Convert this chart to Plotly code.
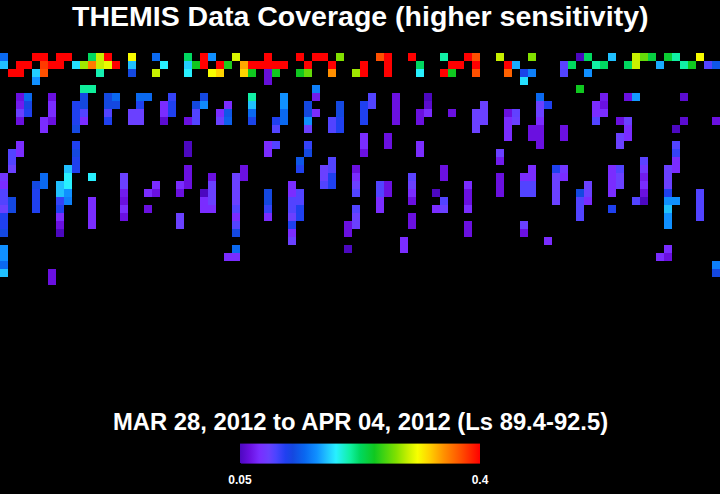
import plotly.graph_objects as go

title_text = "THEMIS Data Coverage (higher sensitivity)"
subtitle_text = "MAR 28, 2012 to APR 04, 2012 (Ls 89.4-92.5)"
tick_values = [0.05, 0.4]
tick_labels = ["0.05", "0.4"]
n_cols = 90

# column: value, per latitude row (top to bottom)
row_00 = {0:.145,4:.4,5:.4,7:.4,8:.4,11:.225,12:.295,13:.4,16:.31,19:.145,23:.225,25:.4,26:.162,29:.3,
          33:.4,37:.4,39:.4,40:.4,42:.278,47:.372,48:.4,51:.4,55:.21,58:.4,59:.372,
          62:.295,66:.278,72:.05,73:.225,76:.176,79:.295,80:.27,81:.235,83:.24,84:.21,87:.31}
row_01 = {0:.176,2:.4,3:.4,5:.38,6:.4,7:.4,9:.185,10:.285,11:.355,12:.295,13:.305,14:.4,16:.176,20:.19,23:.18,24:.246,25:.4,27:.4,28:.25,
          30:.34,31:.4,32:.4,33:.4,34:.4,35:.4,38:.4,41:.4,45:.4,48:.4,52:.225,56:.4,57:.4,59:.4,
          63:.4,64:.17,70:.097,71:.225,74:.21,75:.225,78:.225,79:.295,82:.17,85:.21,86:.246,88:.10,89:.135}
row_02 = {1:.4,2:.4,4:.18,5:.372,12:.207,16:.127,19:.295,23:.19,26:.31,27:.325,
          30:.325,31:.246,33:.062,34:.246,37:.246,38:.27,41:.348,44:.285,45:.4,48:.4,52:.19,55:.4,56:.246,59:.372,
          63:.365,65:.122,66:.155,70:.10,73:.162}
row_03 = {4:.162,33:.062,65:.185}
row_04 = {10:.212,11:.212,39:.155,72:.246}
row_05 = {2:.064,3:.145,6:.064,10:.127,13:.127,14:.145,17:.145,18:.145,21:.11,25:.127,
          31:.21,35:.162,39:.07,46:.10,49:.064,53:.05,
          67:.145,75:.07,78:.064,79:.165,85:.057}
row_06 = {2:.07,3:.125,6:.078,9:.117,10:.127,13:.127,14:.127,17:.117,20:.078,21:.117,24:.127,25:.16,28:.078,
          31:.176,35:.162,38:.127,42:.127,45:.117,46:.10,49:.064,53:.057,
          60:.092,67:.092,68:.117,74:.078,75:.064}
row_07 = {2:.092,3:.117,6:.078,9:.117,10:.10,13:.10,16:.092,17:.092,20:.078,21:.117,24:.10,27:.078,28:.135,
          31:.145,35:.145,38:.127,39:.078,42:.127,45:.117,49:.064,52:.064,53:.078,56:.064,59:.092,
          60:.092,63:.064,64:.095,67:.092,74:.078,75:.078}
row_08 = {2:.064,5:.078,6:.064,9:.117,10:.078,13:.117,16:.092,17:.092,20:.057,23:.064,24:.10,27:.092,28:.14,
          31:.122,34:.117,35:.145,38:.162,41:.10,42:.117,45:.117,49:.064,52:.064,59:.092,
          60:.092,63:.078,64:.092,67:.078,74:.10,77:.064,78:.092,85:.057,89:.064}
row_09 = {5:.078,9:.127,34:.10,38:.092,41:.10,42:.117,59:.092,
          63:.078,66:.064,67:.064,70:.064,78:.078,84:.05}
row_10 = {45:.078,48:.064,63:.078,66:.064,67:.064,70:.064,77:.092,78:.078}
row_11 = {2:.078,9:.117,23:.05,33:.078,34:.10,38:.11,45:.078,48:.064,52:.078,67:.064,77:.092,84:.10}
row_12 = {1:.10,2:.078,9:.127,23:.05,33:.078,38:.127,45:.064,52:.078,62:.092,84:.11}
row_13 = {1:.10,9:.117,37:.135,41:.10,62:.07,80:.097,84:.078}
row_14 = {1:.092,8:.176,9:.117,23:.064,30:.064,37:.117,40:.092,41:.10,44:.064,55:.064,
          66:.078,69:.117,70:.085,76:.078,77:.10,80:.085,83:.092,84:.078}
row_15 = {0:.085,5:.145,8:.19,11:.19,15:.092,23:.064,26:.064,29:.092,30:.064,40:.092,41:.117,44:.078,51:.097,55:.064,
          62:.064,65:.078,66:.078,69:.092,70:.078,76:.078,77:.092,80:.07,83:.092}
row_16 = {0:.078,4:.127,5:.145,7:.176,8:.19,15:.092,19:.078,22:.078,23:.064,26:.092,29:.092,
          36:.078,40:.10,41:.117,44:.092,47:.10,48:.064,51:.092,58:.078,
          62:.064,65:.10,66:.10,69:.092,73:.092,76:.078,77:.092,80:.078,83:.092}
row_17 = {0:.10,4:.117,7:.176,8:.162,15:.07,18:.078,19:.064,22:.064,25:.05,26:.092,29:.092,
          33:.127,36:.078,37:.10,44:.10,47:.10,48:.064,51:.078,54:.05,58:.064,
          62:.064,65:.10,66:.10,69:.092,72:.127,73:.092,76:.078,80:.064,83:.117,87:.10}
row_18 = {0:.10,1:.127,4:.117,7:.11,8:.155,11:.078,15:.064,25:.078,26:.092,29:.092,
          33:.127,36:.10,37:.10,47:.078,51:.064,55:.10,58:.064,
          69:.092,72:.10,73:.078,79:.10,80:.05,83:.162,84:.162,87:.10}
row_19 = {0:.092,1:.127,4:.117,7:.117,11:.078,15:.078,18:.064,25:.078,26:.078,29:.10,
          33:.11,36:.10,37:.117,44:.10,47:.078,54:.078,55:.092,58:.078,
          72:.10,76:.117,83:.176,87:.10}
row_20 = {0:.117,7:.078,11:.078,15:.064,22:.092,29:.078,33:.078,36:.092,37:.117,44:.092,51:.064,
          72:.10,83:.162,87:.10}
row_21 = {0:.117,7:.064,11:.078,22:.092,29:.10,36:.117,43:.064,44:.092,51:.064,58:.064,65:.092,83:.162}
row_22 = {0:.127,7:.05,29:.127,36:.078,43:.064,58:.064,65:.064}
row_23 = {36:.092,50:.078,68:.078}
row_24 = {0:.162,29:.145,43:.05,50:.078,83:.078}
row_25 = {0:.162,28:.078,29:.078,82:.078,83:.064}
row_26 = {0:.145,89:.155}
row_27 = {0:.176,6:.064,89:.127}
row_28 = {6:.064}

rows = [row_00,row_01,row_02,row_03,row_04,row_05,row_06,row_07,row_08,row_09,
        row_10,row_11,row_12,row_13,row_14,row_15,row_16,row_17,row_18,row_19,
        row_20,row_21,row_22,row_23,row_24,row_25,row_26,row_27,row_28]
z = [[r.get(c) for c in range(n_cols)] for r in rows]

scale = [[0,"#4c08c0"],[.04,"#6a10e0"],[.08,"#7a2cff"],[.12,"#6a40ff"],[.15,"#4a44ff"],[.19,"#2040f0"],
         [.22,"#1448e0"],[.27,"#0a68f0"],[.32,"#1090ff"],[.36,"#20c0ff"],[.40,"#28f0ff"],[.46,"#10f0a0"],
         [.50,"#00d860"],[.56,"#10c820"],[.65,"#80e000"],[.70,"#c8f000"],[.74,"#f8ff00"],[.79,"#ffd000"],
         [.85,"#ff9000"],[.92,"#ff5000"],[1,"#ff0000"]]

W, H = 720, 494
fig = go.Figure(go.Heatmap(
    z=z, zmin=tick_values[0], zmax=tick_values[1], colorscale=scale, hoverongaps=False,
    colorbar=dict(orientation="h", x=0.5, xanchor="center", y=(H-488)/H, yanchor="bottom", yref="paper",
                  len=240, lenmode="pixels", thickness=20, thicknessmode="pixels",
                  xpad=0, ypad=0, outlinewidth=0, borderwidth=0, ticks="outside", ticklen=7, tickcolor="black",
                  tickvals=tick_values, ticktext=tick_labels,
                  tickfont=dict(family="Liberation Sans", size=12, color="white", weight="bold")),
))
fig.update_layout(
    width=W, height=H, margin=dict(l=0, r=0, t=0, b=0),
    paper_bgcolor="black", plot_bgcolor="black",
    xaxis=dict(visible=False, range=[-0.5, 89.5], domain=[0, 1]),
    yaxis=dict(visible=False, range=[(H-53)/8-0.5, -0.5], domain=[0, (H-53)/H]),
    annotations=[
        dict(text=title_text, x=0.5, y=(H-15.5)/H, xref="paper", yref="paper", showarrow=False, yanchor="middle",
             font=dict(family="Liberation Sans", size=28.5, color="white", weight="bold")),
        dict(text=subtitle_text, x=0.5, y=(H-421.5)/H, xref="paper", yref="paper", showarrow=False, yanchor="middle",
             font=dict(family="Liberation Sans", size=23.8, color="white", weight="bold")),
    ],
)
fig.write_html("out.html", config={"displayModeBar": False},
               post_script="document.body.style.margin='0';document.body.style.background='black';document.documentElement.style.overflow='hidden';")
